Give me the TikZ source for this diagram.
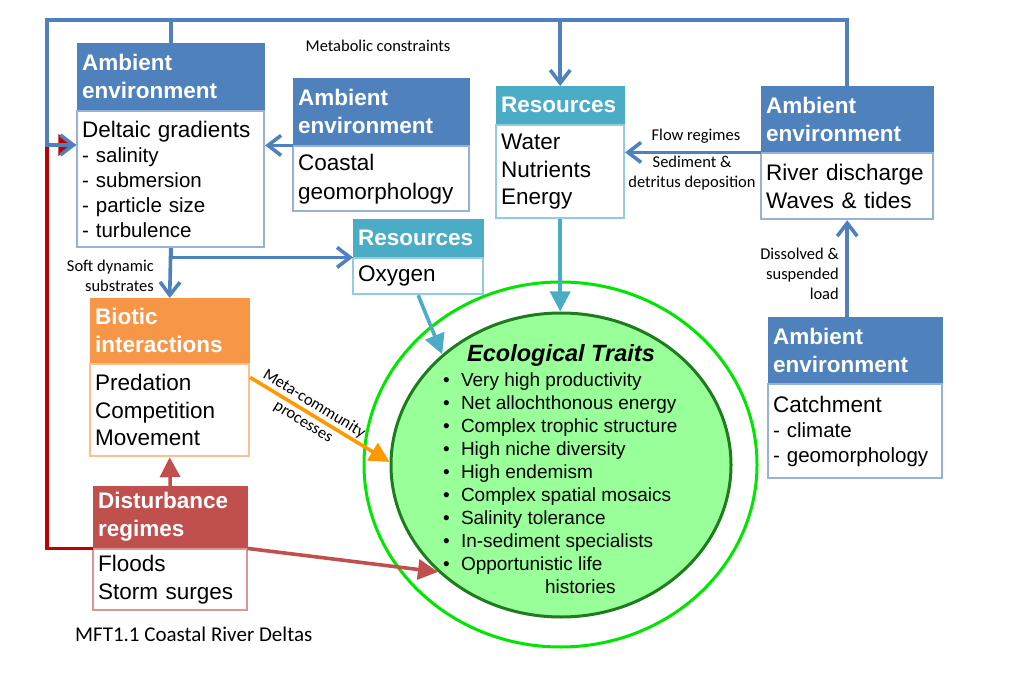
\documentclass[tikz,border=0pt]{standalone}
\usepackage{fontspec}
\setmainfont{Liberation Sans}
\newfontfamily\calibri{Carlito}
\usetikzlibrary{arrows.meta,positioning,shapes.geometric}

\definecolor{ambblue}{HTML}{4F81BD}
\definecolor{ambedge}{HTML}{95B3D7}
\definecolor{resteal}{HTML}{4BACC6}
\definecolor{resedge}{HTML}{93CDDD}
\definecolor{biotor}{HTML}{F79646}
\definecolor{biotedge}{HTML}{FAC090}
\definecolor{distred}{HTML}{C0504D}
\definecolor{distedge}{HTML}{D99694}
\definecolor{loopred}{HTML}{C00000}
\definecolor{metaor}{HTML}{FF9900}
\definecolor{traitfill}{HTML}{99FF99}
\definecolor{traitedge}{HTML}{1E7B1E}
\definecolor{ringgreen}{HTML}{00E600}

\newcommand{\trait}[1]{\makebox[236pt][l]{\makebox[18pt][l]{\textbullet}#1}}
\newcommand{\headline}[1]{{\fontsize{22.5}{25}\selectfont #1}}

\begin{document}
\begin{tikzpicture}[
  x=1pt, y=-1pt,
  node distance = 0pt,
  hdr/.style = {
    rectangle,
    fill=#1,
    draw=#1,
    text=white,
    inner xsep=5pt,
    inner ysep=0pt,
    align=left,
    anchor=north west,
    font=\fontsize{22.5}{28}\selectfont\bfseries
  },
  bdy/.style = {
    rectangle,
    fill=white,
    draw=#1,
    line width=1.8pt,
    inner xsep=5pt,
    inner ysep=0pt,
    align=left,
    font=\fontsize{22.5}{27.5}\selectfont
  },
  lst/.style = {bdy=#1, font=\fontsize{20.5}{25}\selectfont},
  lbl/.style = {inner sep=0pt, font=\calibri\fontsize{16.5}{20}\selectfont},
  blueln/.style = {draw=ambblue, line width=3.6pt},
  barb/.style = {-{Straight Barb[length=13pt,width=20pt]}},
  fillarr/.style = {draw=#1, line width=3.6pt, -{Triangle[length=20pt,width=20pt]}},
  ]
  \useasboundingbox (0,0) rectangle (1011,700);

  % ecological traits
  \node[ellipse, draw=ringgreen, line width=3pt, inner sep=0pt,
        minimum width=393pt, minimum height=365pt] (ring) at (560.5,464.5) {};
  \node[ellipse, draw=traitedge, fill=traitfill, line width=3pt, inner sep=0pt,
        minimum width=340pt, minimum height=304pt] (traits) at (561,465) {};
  \node[align=center, inner sep=0pt, font=\fontsize{19}{23}\selectfont] (traitstxt) at (561,469) {%
    {\fontsize{23.5}{25}\selectfont\bfseries\itshape Ecological Traits}\\[2pt]
    \trait{Very high productivity}\\
    \trait{Net allochthonous energy}\\
    \trait{Complex trophic structure}\\
    \trait{High niche diversity}\\
    \trait{High endemism}\\
    \trait{Complex spatial mosaics}\\
    \trait{Salinity tolerance}\\
    \trait{In-sediment specialists}\\
    \trait{Opportunistic life}\\
    \makebox[236pt][l]{\hspace{102pt}histories}};

  % boxes
  \node[hdr=ambblue, text width=177pt, minimum height=67pt] (delth) at (77,43) {Ambient\\environment};
  \node[lst=ambedge, text width=177pt, minimum height=136pt, below=of delth] (deltb)
    {\headline{Deltaic gradients}\\- salinity\\- submersion\\- particle size\\- turbulence};
  \node[hdr=ambblue, text width=166pt, minimum height=67pt] (coasth) at (293,78) {Ambient\\environment};
  \node[bdy=ambedge, text width=166pt, minimum height=65pt, below=of coasth,
        font=\fontsize{22.5}{29}\selectfont] (coastb) {Coastal\\geomorphology};
  \node[hdr=resteal, text width=120pt, minimum height=38pt] (oxyh) at (353,219) {Resources};
  \node[bdy=resedge, text width=120pt, minimum height=36pt, below=of oxyh] (oxyb) {Oxygen};
  \node[hdr=resteal, text width=118pt, minimum height=38pt] (resh) at (496,86) {Resources};
  \node[bdy=resedge, text width=118pt, minimum height=93pt, below=of resh] (resb) {Water\\Nutrients\\Energy};
  \node[hdr=ambblue, text width=162pt, minimum height=66pt] (riverh) at (761,86) {Ambient\\environment};
  \node[bdy=ambedge, text width=162pt, minimum height=66pt, below=of riverh] (riverb) {River discharge\\Waves \& tides};
  \node[hdr=ambblue, text width=164pt, minimum height=66pt] (catchh) at (768,317) {Ambient\\environment};
  \node[lst=ambedge, text width=164pt, minimum height=94pt, below=of catchh] (catchb)
    {\headline{Catchment}\\- climate\\- geomorphology};
  \node[hdr=biotor, text width=149pt, minimum height=65pt] (bioth) at (90,298) {Biotic\\interactions};
  \node[bdy=biotedge, text width=149pt, minimum height=92pt, below=of bioth] (biotb) {Predation\\Competition\\Movement};
  \node[hdr=distred, text width=144pt, minimum height=62pt] (disth) at (93,486) {Disturbance\\regimes};
  \node[bdy=distedge, text width=144pt, minimum height=61pt, below=of disth] (distb) {Floods\\Storm surges};

  % corners of the loop
  \coordinate (tl) at (47,20);
  \coordinate (ml) at (47,145);

  % connectors
  \draw[loopred, line width=3.6pt, -{Triangle[length=18pt,width=21pt]}] (disth.south west) -| (ml) -- (ml -| deltb.west);
  \draw[blueln, barb] (riverh.north) |- (tl) -- (ml) -- (ml -| deltb.west);
  \draw[blueln] (delth.north) -- (delth.north |- tl);
  \draw[blueln, barb] (resh.north |- tl) -- (resh.north);
  \draw[blueln, barb] (coasth.south west) -- (coasth.south west -| deltb.east);
  \draw[blueln, barb] (deltb.south) -- (bioth.north);
  \draw[blueln, barb] (deltb.south) |- (oxyh.south west);
  \draw[blueln, barb] (riverh.south west) -- (riverh.south west -| resb.east);
  \draw[blueln, barb] (riverb.south |- catchh.north) -- (riverb.south);
  \draw[fillarr=resteal] (resb.south) -- (resb.south |- traits.north);
  \draw[fillarr=resteal] (oxyb.south) -- (traits.137);
  \draw[fillarr=metaor] ([yshift=-14pt]biotb.north east) -- (traits.179)
    node[lbl, pos=0.42, sloped, align=center, font=\calibri\fontsize{16.5}{21}\selectfont] (meta) {Meta-community\\processes};
  \draw[fillarr=distred] (disth.south east) -- (traits.221);
  \draw[fillarr=distred] (disth.north) -- (biotb.south);

  % labels
  \node[lbl] (metab) at (378,46) {Metabolic constraints};
  \node[lbl, align=right, anchor=east] (soft) at (154,276) {Soft dynamic\\substrates};
  \node[lbl] (flow) at (696,136) {Flow regimes};
  \node[lbl, align=center] (sed) at (692,173) {Sediment \&\\detritus deposition};
  \node[lbl, align=right, anchor=east] (diss) at (839,274) {Dissolved \&\\suspended\\load};
  \node[anchor=west, inner sep=0pt, font=\calibri\fontsize{21}{25}\selectfont] (caption) at (75,634) {MFT1.1 Coastal River Deltas};
\end{tikzpicture}
\end{document}
